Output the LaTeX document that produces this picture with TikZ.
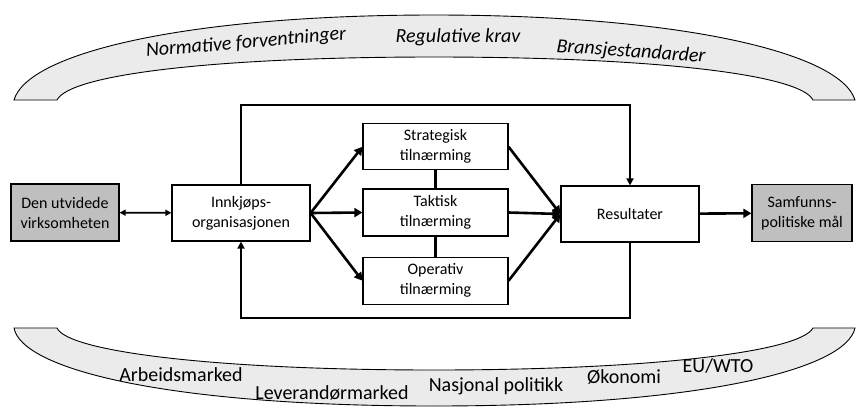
\documentclass[tikz,border=0pt]{standalone}
\usepackage{fontspec}
\setmainfont{Carlito}
\usepackage{tikz}
\usetikzlibrary{arrows.meta,positioning}

\begin{document}
\begin{tikzpicture}[x = 1pt, y = -1pt,
		box/.style = {rectangle, draw, line width = 1.2pt, inner sep = 0pt, align = center, font = \fontsize{16}{20}\selectfont},
		outerbox/.style = {box, fill = black!25, minimum width = 100pt, minimum height = 57pt},
		orgbox/.style = {box, minimum width = 138pt, minimum height = 56pt},
		approach/.style = {box, minimum width = 145pt, minimum height = 46pt},
		band/.style = {draw, line width = 0.9pt, fill = black!8},
		bandlabel/.style = {font = \fontsize{20}{24}\selectfont\itshape},
		fieldlabel/.style = {font = \fontsize{20}{24}\selectfont},
		pathstyle/.style = {line width = 2.6pt, -{Triangle[length = 8pt, width = 9pt]}},
		loopstyle/.style = {line width = 1.8pt, -{Triangle[length = 7pt, width = 7pt]}}]
		\useasboundingbox (0,0) rectangle (857,408);
		% Start of upper band
		\path [band] (14,100) .. controls (28,52) and (190,15) .. (434,15) .. controls (678,15) and (840,52) .. (855,100) -- (813,100) .. controls (800,74) and (650,57) .. (434,57) .. controls (218,57) and (70,74) .. (57,100) -- cycle;
		\node (norm) at (246,43) [bandlabel, rotate = 5] {Normative forventninger};
		\node (reg) at (458,37) [bandlabel] {Regulative krav};
		\node (bransj) at (631,52) [bandlabel, rotate = -4] {Bransjestandarder};
		% Start of lower band
		\path [band] (14,328) .. controls (22,370) and (170,406) .. (434,406) .. controls (698,406) and (846,370) .. (855,328) -- (813,328) .. controls (800,352) and (650,370) .. (434,370) .. controls (218,370) and (68,352) .. (57,328) -- cycle;
		\node (arb) at (181,375) [fieldlabel] {Arbeidsmarked};
		\node (lev) at (332,393) [fieldlabel] {Leverandørmarked};
		\node (nasj) at (496,386) [fieldlabel] {Nasjonal politikk};
		\node (okon) at (624,377) [fieldlabel] {Økonomi};
		\node (euwto) at (718,366) [fieldlabel] {EU/WTO};
		% Start of boxes
		\node (virks) at (65,212.5) [outerbox, minimum width = 108pt] {Den utvidede\\virksomheten};
		\node (innkj) at (241,213) [orgbox] {Innkjøps-\\organisasjonen};
		\node (takt) at (435.5,212.5) [approach, minimum height = 47pt] {Taktisk\\tilnærming};
		\node (strat) [approach, above = 18pt of takt] {Strategisk\\tilnærming};
		\node (oper) [approach, minimum height = 47pt, below = 20pt of takt] {Operativ\\tilnærming};
		\node (res) at (630,214) [orgbox] {Resultater};
		\node (samf) at (802,213) [outerbox] {Samfunns-\\politiske mål};
		\coordinate (looptop) at (435,105);
		\coordinate (loopbot) at (435,318);
		% Paths in between
		\draw [line width = 1.8pt, {Triangle[length = 6pt, width = 6pt]}-{Triangle[length = 6pt, width = 6pt]}] (virks) -- (innkj);
		\draw [pathstyle] (innkj.east) -- (strat.west);
		\draw [pathstyle] (innkj.east) -- (takt.west);
		\draw [pathstyle] (innkj.east) -- (oper.west);
		\draw [line width = 2.6pt] (strat) -- (takt) -- (oper);
		\draw [pathstyle] (strat.east) -- (res.west);
		\draw [pathstyle] (takt.east) -- (res.west);
		\draw [pathstyle] (oper.east) -- (res.west);
		\draw [pathstyle] (res) -- (samf);
		\draw [loopstyle] (innkj.north) |- (looptop) -| (res.north);
		\draw [loopstyle] (res.south) |- (loopbot) -| (innkj.south);
	\end{tikzpicture}
\end{document}
